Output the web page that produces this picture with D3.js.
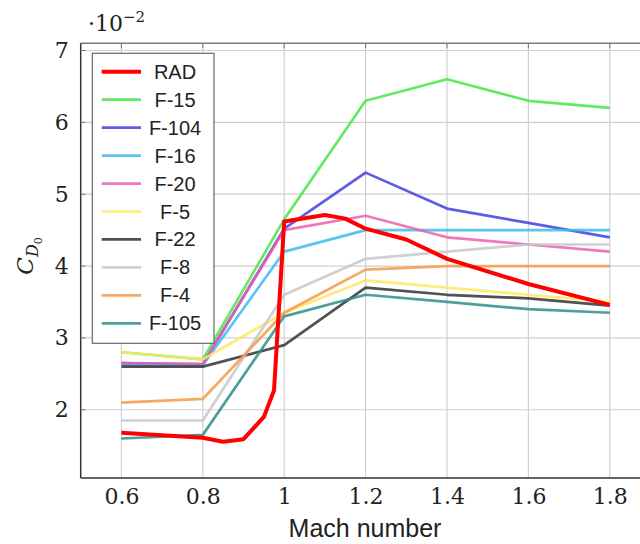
<!DOCTYPE html>
<html>
<head>
<meta charset="utf-8">
<script src="https://cdn.jsdelivr.net/npm/d3@7"></script>
<style>
  body { margin: 0; background: #fff; }
  svg { display: block; }
</style>
</head>
<body>
<div class="chart"></div>
<script>
// values (C_D0 in units of 1e-2)
var mach = [0.6, 0.8, 1.0, 1.2, 1.4, 1.6, 1.8];
var radMach = [0.6, 0.8, 0.85, 0.9, 0.95, 0.975, 1.0, 1.1, 1.15, 1.2, 1.3, 1.4, 1.6, 1.8];
var radCd = [1.68, 1.61, 1.555, 1.59, 1.9, 2.27, 4.62, 4.71, 4.66, 4.52, 4.37, 4.1, 3.75, 3.46];

var f15 = [2.8, 2.7, 4.65, 6.3, 6.6, 6.3, 6.2];
var f104 = [2.65, 2.63, 4.52, 5.3, 4.8, 4.6, 4.4];
var f16 = [2.62, 2.62, 4.2, 4.5, 4.5, 4.5, 4.5];
var f20 = [2.65, 2.64, 4.5, 4.7, 4.4, 4.3, 4.2];
var f5 = [2.8, 2.7, 3.35, 3.8, 3.7, 3.6, 3.5];
var f22 = [2.6, 2.6, 2.9, 3.7, 3.6, 3.55, 3.45];
var f8 = [1.85, 1.85, 3.6, 4.1, 4.2, 4.3, 4.3];
var f4 = [2.1, 2.15, 3.35, 3.95, 4.0, 4.0, 4.0];
var f105 = [1.6, 1.65, 3.3, 3.6, 3.5, 3.4, 3.35];

var names = ['RAD', 'F-15', 'F-104', 'F-16', 'F-20', 'F-5', 'F-22', 'F-8', 'F-4', 'F-105'];
var colors = ['#ff0000', '#44e844', '#4040e0', '#3cbcec', '#ec5fb0', '#ffe860', '#333333', '#c8c8c8', '#f59a45', '#2e8f88'];

var xTicks = [0.6, 0.8, 1, 1.2, 1.4, 1.6, 1.8];
var yTicks = [2, 3, 4, 5, 6, 7];

var series = [
  { name: 'RAD', xs: radMach, ys: radCd },
  { name: 'F-15', xs: mach, ys: f15 },
  { name: 'F-104', xs: mach, ys: f104 },
  { name: 'F-16', xs: mach, ys: f16 },
  { name: 'F-20', xs: mach, ys: f20 },
  { name: 'F-5', xs: mach, ys: f5 },
  { name: 'F-22', xs: mach, ys: f22 },
  { name: 'F-8', xs: mach, ys: f8 },
  { name: 'F-4', xs: mach, ys: f4 },
  { name: 'F-105', xs: mach, ys: f105 }
];

var svg = d3.select('.chart').append('svg')
  .attr('width', 640)
  .attr('height', 544);

svg.append('rect').attr('width', 640).attr('height', 544).attr('fill', '#fff');

// plot box (right edge runs past the picture, as in the original)
var pLeft = 80.7, pRight = 650.5, pTop = 43.3, pBottom = 478;

var x = d3.scaleLinear().domain([0.5, 1.9]).range([pLeft, pRight]);
var y = d3.scaleLinear().domain([1.05, 7.1]).range([pBottom, pTop]);

// grid
var grid = svg.append('g');
grid.selectAll('.vg').data(xTicks).enter().append('line')
  .attr('x1', function (d) { return x(d); })
  .attr('x2', function (d) { return x(d); })
  .attr('y1', pTop).attr('y2', pBottom)
  .attr('stroke', '#d0d0d0').attr('stroke-width', 1.2);
grid.selectAll('.hg').data(yTicks).enter().append('line')
  .attr('x1', pLeft).attr('x2', pRight)
  .attr('y1', function (d) { return y(d); })
  .attr('y2', function (d) { return y(d); })
  .attr('stroke', '#d0d0d0').attr('stroke-width', 1.2);

// frame
svg.append('line').attr('x1', pLeft).attr('x2', pRight).attr('y1', pTop).attr('y2', pTop)
  .attr('stroke', '#7a7a7a').attr('stroke-width', 1.5);
svg.append('line').attr('x1', pLeft).attr('x2', pLeft).attr('y1', pTop).attr('y2', pBottom)
  .attr('stroke', '#333').attr('stroke-width', 1.5);
svg.append('line').attr('x1', pLeft).attr('x2', pRight).attr('y1', pBottom).attr('y2', pBottom)
  .attr('stroke', '#333').attr('stroke-width', 1.5);

// tick labels via d3 axes
var xAxis = d3.axisBottom(x).tickValues(xTicks).tickSize(0).tickPadding(10)
  .tickFormat(function (d) { return String(d); });
svg.append('g').attr('transform', 'translate(0,' + pBottom + ')').call(xAxis)
  .call(function (g) { g.select('.domain').remove(); })
  .selectAll('text')
  .attr('font-family', 'DejaVu Serif').attr('font-size', 22).attr('fill', '#222');

var yAxis = d3.axisLeft(y).tickValues(yTicks).tickSize(0).tickPadding(12)
  .tickFormat(function (d) { return String(d); });
svg.append('g').attr('transform', 'translate(' + pLeft + ',0)').call(yAxis)
  .call(function (g) { g.select('.domain').remove(); })
  .selectAll('text')
  .attr('font-family', 'DejaVu Serif').attr('font-size', 22).attr('fill', '#222');

// small inner tick marks
svg.selectAll('.ty').data(yTicks).enter().append('line')
  .attr('x1', pLeft).attr('x2', pLeft + 5)
  .attr('y1', function (d) { return y(d); }).attr('y2', function (d) { return y(d); })
  .attr('stroke', '#777').attr('stroke-width', 1);
svg.selectAll('.tx').data(xTicks).enter().append('line')
  .attr('x1', function (d) { return x(d); }).attr('x2', function (d) { return x(d); })
  .attr('y1', pTop).attr('y2', pTop + 5)
  .attr('stroke', '#777').attr('stroke-width', 1);

// scale factor label
var sf = svg.append('text').attr('x', 88).attr('y', 31)
  .attr('font-family', 'DejaVu Serif').attr('font-size', 22).attr('fill', '#222');
sf.append('tspan').text('\u00b710');
sf.append('tspan').attr('dy', -9).attr('font-size', 15).text('\u22122');

// y label C_{D_0}
var yl = svg.append('text')
  .attr('transform', 'translate(33,256) rotate(-90)')
  .attr('text-anchor', 'middle')
  .attr('font-family', 'DejaVu Serif').attr('font-size', 23).attr('fill', '#222');
yl.append('tspan').attr('font-style', 'italic').text('C');
yl.append('tspan').attr('font-style', 'italic').attr('font-size', 16).attr('dy', 5).text('D');
yl.append('tspan').attr('font-size', 11).attr('dy', 4).text('0');

// x label
svg.append('text').attr('x', 365).attr('y', 537)
  .attr('text-anchor', 'middle')
  .attr('font-family', 'Liberation Sans, Arial, sans-serif').attr('font-size', 25).attr('fill', '#222')
  .text('Mach number');

// lines: other aircraft first, RAD on top
var line = d3.line()
  .x(function (d) { return x(d[0]); })
  .y(function (d) { return y(d[1]); });

var drawOrder = series.slice(1).concat([series[0]]);
svg.append('g').selectAll('path').data(drawOrder).enter().append('path')
  .attr('d', function (s) { return line(d3.zip(s.xs, s.ys)); })
  .attr('fill', 'none')
  .attr('stroke', function (s) { return colors[names.indexOf(s.name)]; })
  .attr('stroke-width', function (s) { return s.name === 'RAD' ? 4 : 2.7; })
  .attr('stroke-opacity', function (s) { return s.name === 'RAD' ? 1 : 0.85; })
  .attr('stroke-linejoin', 'round');

// legend
var lg = svg.append('g');
lg.append('rect').attr('x', 92.3).attr('y', 53.3).attr('width', 121.7).attr('height', 290)
  .attr('fill', '#fff').attr('stroke', '#666').attr('stroke-width', 1.2);
var row = lg.selectAll('.row').data(names).enter().append('g')
  .attr('transform', function (d, i) { return 'translate(0,' + (71.7 + i * 27.96) + ')'; });
row.append('line').attr('x1', 101.7).attr('x2', 141)
  .attr('stroke', function (d, i) { return colors[i]; })
  .attr('stroke-width', function (d) { return d === 'RAD' ? 4 : 2.7; })
  .attr('stroke-opacity', function (d) { return d === 'RAD' ? 1 : 0.85; });
row.append('text').attr('x', 175).attr('y', 7)
  .attr('text-anchor', 'middle')
  .attr('font-family', 'Liberation Sans, Arial, sans-serif').attr('font-size', 20).attr('fill', '#222')
  .text(function (d) { return d; });
</script>
</body>
</html>
